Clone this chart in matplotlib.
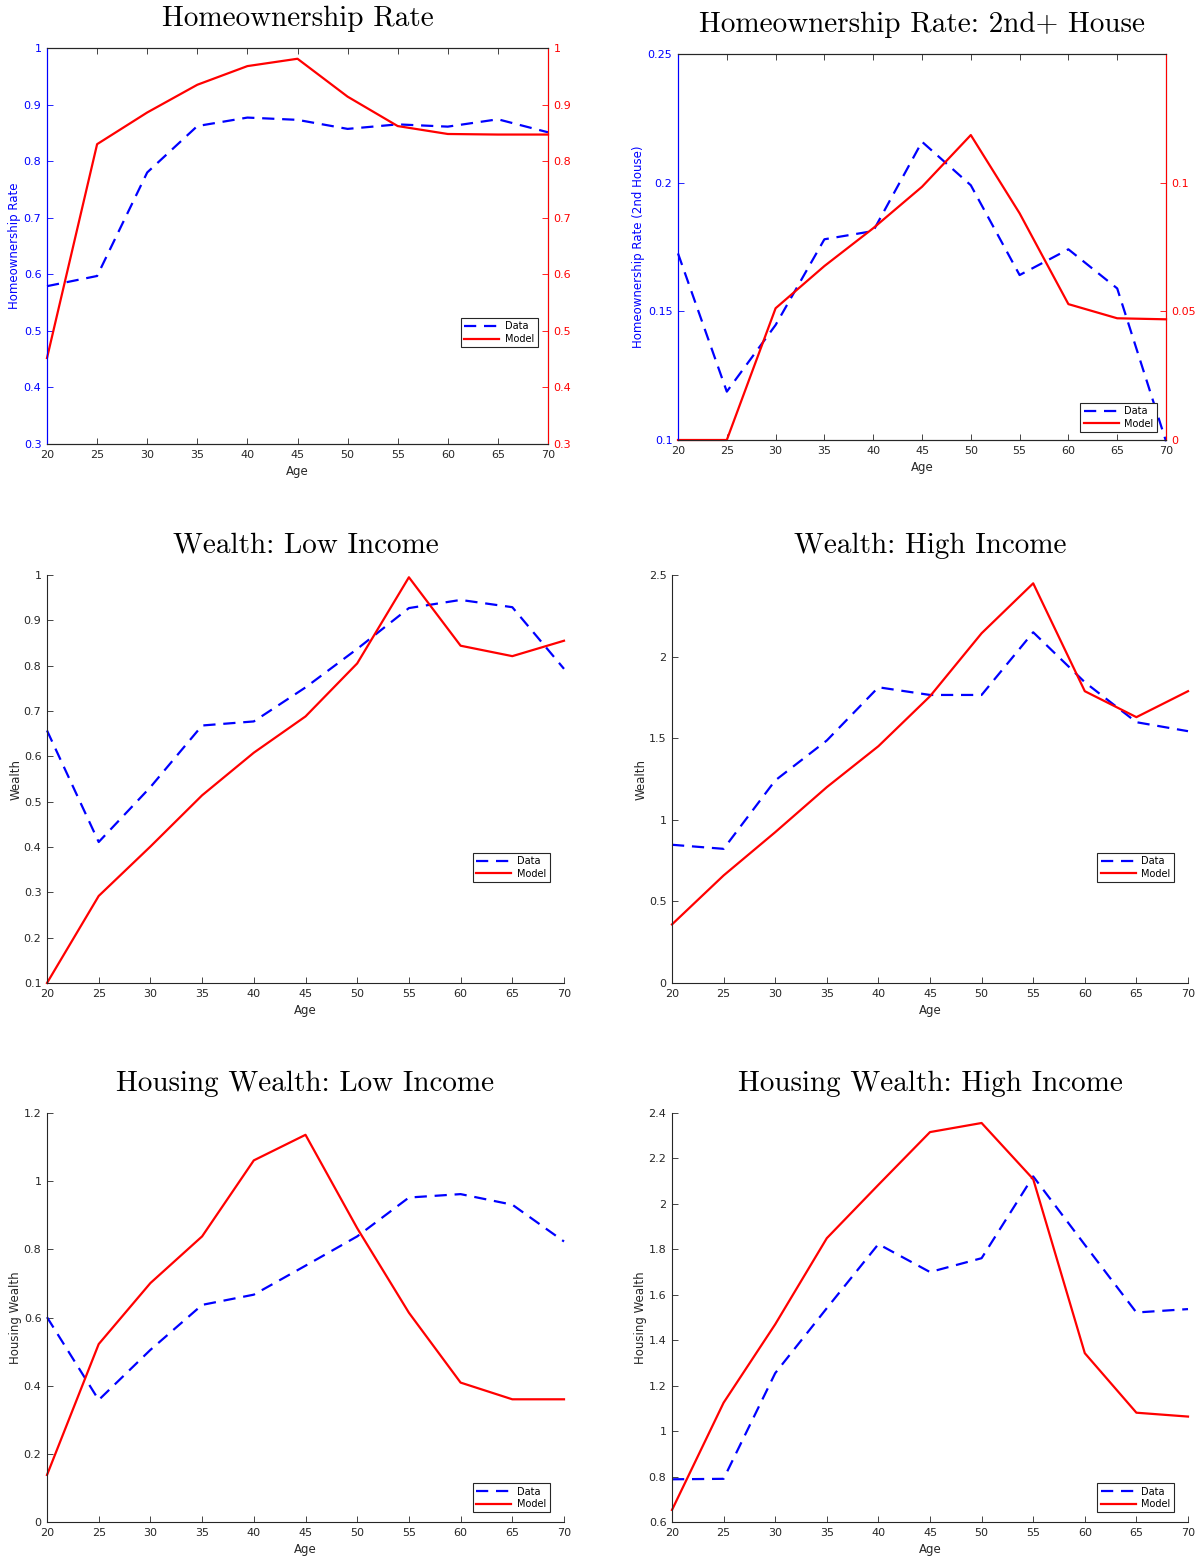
import matplotlib
matplotlib.use('Agg')
import matplotlib.pyplot as plt
from matplotlib.ticker import FormatStrFormatter

# ages on x axis
ages = [20, 25, 30, 35, 40, 45, 50, 55, 60, 65, 70]

# homeownership rate
own_data = [0.579, 0.597, 0.780, 0.862, 0.877, 0.873, 0.857, 0.865, 0.861, 0.874, 0.851]
own_model = [0.452, 0.830, 0.886, 0.935, 0.968, 0.981, 0.914, 0.862, 0.848, 0.847, 0.847]

# homeownership rate, 2nd+ house (data on left axis, model on right axis)
own2_data = [0.1725, 0.1188, 0.1447, 0.178, 0.1812, 0.2159, 0.199, 0.1641, 0.1741, 0.1589, 0.0995]
own2_model = [0.0, 0.0, 0.0512, 0.0676, 0.0823, 0.0984, 0.1185, 0.0881, 0.0528, 0.0473, 0.0469]

# wealth by income group
wealth_low_data = [0.657, 0.411, 0.532, 0.668, 0.677, 0.752, 0.837, 0.927, 0.945, 0.929, 0.793]
wealth_low_model = [0.100, 0.292, 0.401, 0.514, 0.608, 0.688, 0.805, 0.995, 0.844, 0.821, 0.855]
wealth_high_data = [0.847, 0.822, 1.241, 1.486, 1.812, 1.765, 1.765, 2.149, 1.843, 1.598, 1.543]
wealth_high_model = [0.359, 0.659, 0.924, 1.200, 1.451, 1.757, 2.143, 2.449, 1.788, 1.629, 1.788]

# housing wealth by income group
hw_low_data = [0.601, 0.358, 0.505, 0.637, 0.667, 0.752, 0.838, 0.952, 0.962, 0.931, 0.823]
hw_low_model = [0.138, 0.522, 0.701, 0.838, 1.061, 1.136, 0.862, 0.614, 0.409, 0.360, 0.360]
hw_high_data = [0.788, 0.790, 1.255, 1.541, 1.823, 1.700, 1.761, 2.121, 1.820, 1.522, 1.537]
hw_high_model = [0.653, 1.125, 1.470, 1.849, 2.084, 2.316, 2.356, 2.109, 1.343, 1.081, 1.064]

BLUE = '#0000ff'
RED = '#ff0000'
GRAY = '#262626'
W, H = 1195, 1560


def px_axes(fig, left, top, right, bottom):
    """ Axes from pixel box """

    return fig.add_axes([left / W, 1 - bottom / H, (right - left) / W, (bottom - top) / H])


def style_axes(ax, box=False):
    """ MATLAB-like look """

    ax.set_xlim(20, 70)
    ax.set_xticks(ages)
    ax.tick_params(direction='in', length=4, width=0.6, labelsize=8, colors=GRAY, pad=4)
    for s in ax.spines.values():
        s.set_color(GRAY)
        s.set_linewidth(0.8)
    if box:
        ax.tick_params(top=True)
    else:
        ax.spines['top'].set_visible(False)
        ax.spines['right'].set_visible(False)
    ax.yaxis.set_major_formatter(FormatStrFormatter('%g'))
    ax.set_xlabel('Age', fontsize=8.5, color=GRAY, labelpad=4)


def add_title(ax, text):
    ax.set_title(text, fontsize=21, fontfamily='cmr10', pad=16)


def add_legend(ax, handles, x0, ytop):
    leg = ax.legend(handles, ['Data', 'Model'], loc='upper left', bbox_to_anchor=(x0, ytop),
                    fontsize=7, handlelength=3.6, borderpad=0.35, labelspacing=0.25,
                    handletextpad=0.6, fancybox=False, framealpha=1, borderaxespad=0)
    leg.get_frame().set_edgecolor(GRAY)
    leg.get_frame().set_linewidth(0.8)


def plot_pair(ax, data, model, ax_model=None):
    target = ax_model if ax_model is not None else ax
    l1, = ax.plot(ages, data, color=BLUE, lw=1.6, dashes=(5.5, 3.5), clip_on=False)
    l2, = target.plot(ages, model, color=RED, lw=1.6, clip_on=False)
    return [l1, l2]


def twin_panel(ax, data, model, ylim_l, ylim_r, yt_l, yt_r, ylabel, title, leg_pos):
    """ Panel with a blue left axis and red right axis """

    style_axes(ax, box=True)
    ax2 = ax.twinx()
    ax2.set_xlim(20, 70)
    handles = plot_pair(ax, data, model, ax2)
    ax.set_ylim(*ylim_l)
    ax.set_yticks(yt_l)
    ax2.set_ylim(*ylim_r)
    ax2.set_yticks(yt_r)
    ax2.yaxis.set_major_formatter(FormatStrFormatter('%g'))
    ax.tick_params(axis='y', colors=BLUE)
    ax2.tick_params(axis='y', direction='in', length=4, width=0.6, labelsize=8, colors=RED, pad=4)
    ax.spines['left'].set_color(BLUE)
    ax2.spines['left'].set_color(BLUE)
    ax2.spines['right'].set_color(RED)
    ax2.spines['top'].set_color(GRAY)
    ax2.spines['bottom'].set_color(GRAY)
    for s in ax2.spines.values():
        s.set_linewidth(0.8)
    ax.set_ylabel(ylabel, fontsize=8.5, color=BLUE, labelpad=2)
    add_title(ax, title)
    add_legend(ax2, handles, *leg_pos)


def single_panel(ax, data, model, ylim, yt, ylabel, title, leg_pos):
    style_axes(ax)
    handles = plot_pair(ax, data, model)
    ax.set_ylim(*ylim)
    ax.set_yticks(yt)
    ax.set_ylabel(ylabel, fontsize=8.5, color=GRAY, labelpad=1)
    add_title(ax, title)
    add_legend(ax, handles, *leg_pos)


fig = plt.figure(figsize=(W / 100, H / 100), dpi=100)

ax1 = px_axes(fig, 47, 48, 548, 444)
twin_panel(ax1, own_data, own_model, (0.3, 1), (0.3, 1),
           [0.3, 0.4, 0.5, 0.6, 0.7, 0.8, 0.9, 1], [0.3, 0.4, 0.5, 0.6, 0.7, 0.8, 0.9, 1],
           'Homeownership Rate', 'Homeownership Rate', (0.826, 0.318))

ax2 = px_axes(fig, 678, 54, 1166, 440)
twin_panel(ax2, own2_data, own2_model, (0.1, 0.25), (0, 0.15),
           [0.1, 0.15, 0.2, 0.25], [0, 0.05, 0.1],
           'Homeownership Rate (2nd House)', 'Homeownership Rate: 2nd+ House', (0.824, 0.096))

ax3 = px_axes(fig, 47, 575, 564, 983)
single_panel(ax3, wealth_low_data, wealth_low_model, (0.1, 1),
             [0.1, 0.2, 0.3, 0.4, 0.5, 0.6, 0.7, 0.8, 0.9, 1],
             'Wealth', 'Wealth: Low Income', (0.824, 0.319))

ax4 = px_axes(fig, 672, 575, 1188, 983)
single_panel(ax4, wealth_high_data, wealth_high_model, (0, 2.5),
             [0, 0.5, 1, 1.5, 2, 2.5],
             'Wealth', 'Wealth: High Income', (0.824, 0.319))

ax5 = px_axes(fig, 47, 1113, 564, 1522)
single_panel(ax5, hw_low_data, hw_low_model, (0, 1.2),
             [0, 0.2, 0.4, 0.6, 0.8, 1, 1.2],
             'Housing Wealth', 'Housing Wealth: Low Income', (0.824, 0.095))

ax6 = px_axes(fig, 672, 1113, 1188, 1522)
single_panel(ax6, hw_high_data, hw_high_model, (0.6, 2.4),
             [0.6, 0.8, 1, 1.2, 1.4, 1.6, 1.8, 2, 2.2, 2.4],
             'Housing Wealth', 'Housing Wealth: High Income', (0.824, 0.095))

fig.savefig('out.png', dpi=100)
